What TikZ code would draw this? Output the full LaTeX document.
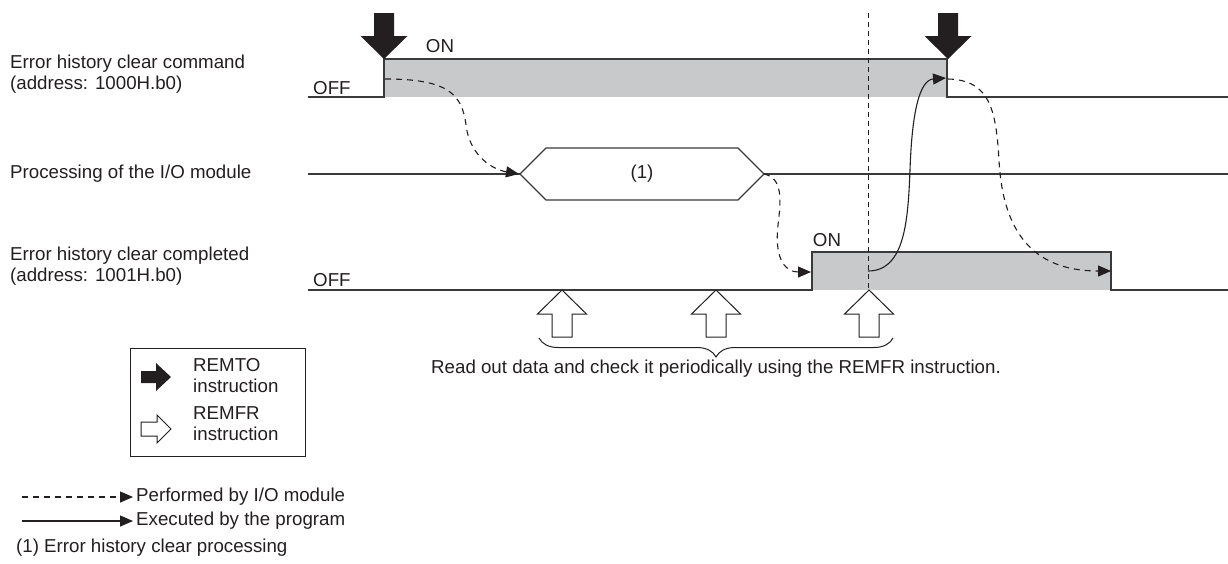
\documentclass[tikz,border=0pt]{standalone}
\usepackage{fontspec}
\setmainfont{Liberation Sans}
\usetikzlibrary{arrows.meta,decorations.pathreplacing}
\definecolor{ink}{HTML}{231F20}
\definecolor{sig}{HTML}{3A3A3A}
\definecolor{greyfill}{HTML}{C8C9CB}
\begin{document}
\begin{tikzpicture}[x=1pt,y=-1pt,
  every node/.style={text=ink,font=\fontsize{18.7}{21}\selectfont,inner sep=0pt},
  lbl/.style={anchor=west,align=left},
  sigline/.style={draw=sig,line width=1.3pt},
  io/.style={draw=ink,line width=1.1pt,dash pattern=on 6pt off 5pt,-{Triangle[length=13pt,width=11pt]}},
  prog/.style={draw=ink,line width=1.1pt,-{Triangle[length=13pt,width=11pt]}},
  remfr/.style={fill=white,draw=ink,line width=1pt}]
\useasboundingbox (0,0) rectangle (1228,563);
% labels
\node[lbl] (l1) at (10,74) {Error history clear command\\(address: 1000H.b0)};
\node[lbl] (l2) at (10,174) {Processing of the I/O module};
\node[lbl] (l3) at (10,266) {Error history clear completed\\(address: 1001H.b0)};
\node[lbl] (off1) at (313,88) {OFF};
\node[lbl] (off3) at (313,280) {OFF};
\node (on1) at (440,46) {ON};
\node (on3) at (827,240) {ON};
% fills
\fill[greyfill] (384,59) rectangle (947,97);
\fill[greyfill] (812,252) rectangle (1111,290);
% signal lines
\draw[sigline] (308,97) -- (384,97) -- (384,59) -- (947,59) -- (947,97) -- (1228,97);
\draw[sigline] (308,290) -- (812,290) -- (812,252) -- (1111,252) -- (1111,290) -- (1228,290);
\draw[sigline] (308,174) -- (520,174);
\draw[sigline] (764,174) -- (1228,174);
\draw[sigline,fill=white] (520,174) -- (546,148) -- (738,148) -- (764,174) -- (738,200) -- (546,200) -- cycle;
\node (p1) at (642,174) {(1)};
% vertical dashed line
\draw[ink,line width=1pt,dash pattern=on 5pt off 4pt] (868,13) -- (868,290);
% REMTO arrows
\foreach \c in {384,948}{
  \fill[ink] (\c-10,13) -- (\c+10,13) -- (\c+10,36) -- (\c+23.5,36) -- (\c,59) -- (\c-23.5,36) -- (\c-10,36) -- cycle;
}
% REMFR arrows
\foreach \c in {562,716,869}{
  \draw[remfr] (\c,290) -- (\c+24.5,314) -- (\c+10,314) -- (\c+10,337) -- (\c-10,337) -- (\c-10,314) -- (\c-24.5,314) -- cycle;
}
% brace
\draw[ink,line width=1pt,decorate,decoration={brace,mirror,amplitude=19pt}] (539,338) -- (893,338);
\node (rd) at (716,369) {Read out data and check it periodically using the REMFR instruction.};
% curves
\draw[io] (385,79) .. controls (445,79) and (462,92) .. (466,125) .. controls (470,158) and (495,170) .. (519,174);
\draw[io] (764,174) .. controls (783,178) and (781,200) .. (778,225) .. controls (774,262) and (787,272) .. (811,272);
\draw[prog] (868,271) .. controls (905,271) and (908,220) .. (910,170) .. controls (912,110) and (920,80) .. (946,78);
\draw[io] (948,79) .. controls (990,80) and (996,110) .. (999,160) .. controls (1003,240) and (1040,271) .. (1111,271);
% legend box
\draw[ink,line width=1pt] (130,348) rectangle (305,456);
\fill[ink] (141,371) -- (156,371) -- (156,363) -- (171,377) -- (156,391) -- (156,383) -- (141,383) -- cycle;
\draw[remfr] (141,422) -- (157,422) -- (157,415) -- (171,429) -- (157,443) -- (157,436) -- (141,436) -- cycle;
\node[lbl] (lg1) at (193,376) {REMTO\\instruction};
\node[lbl] (lg2) at (193,424) {REMFR\\instruction};
% legend lines
\draw[io] (22,497) -- (133,497);
\node[lbl] (lg3) at (136,497) {Performed by I/O module};
\draw[prog] (22,521) -- (133,521);
\node[lbl] (lg4) at (136,521) {Executed by the program};
\node[lbl] (lg5) at (16,548) {(1) Error history clear processing};
\end{tikzpicture}
\end{document}
